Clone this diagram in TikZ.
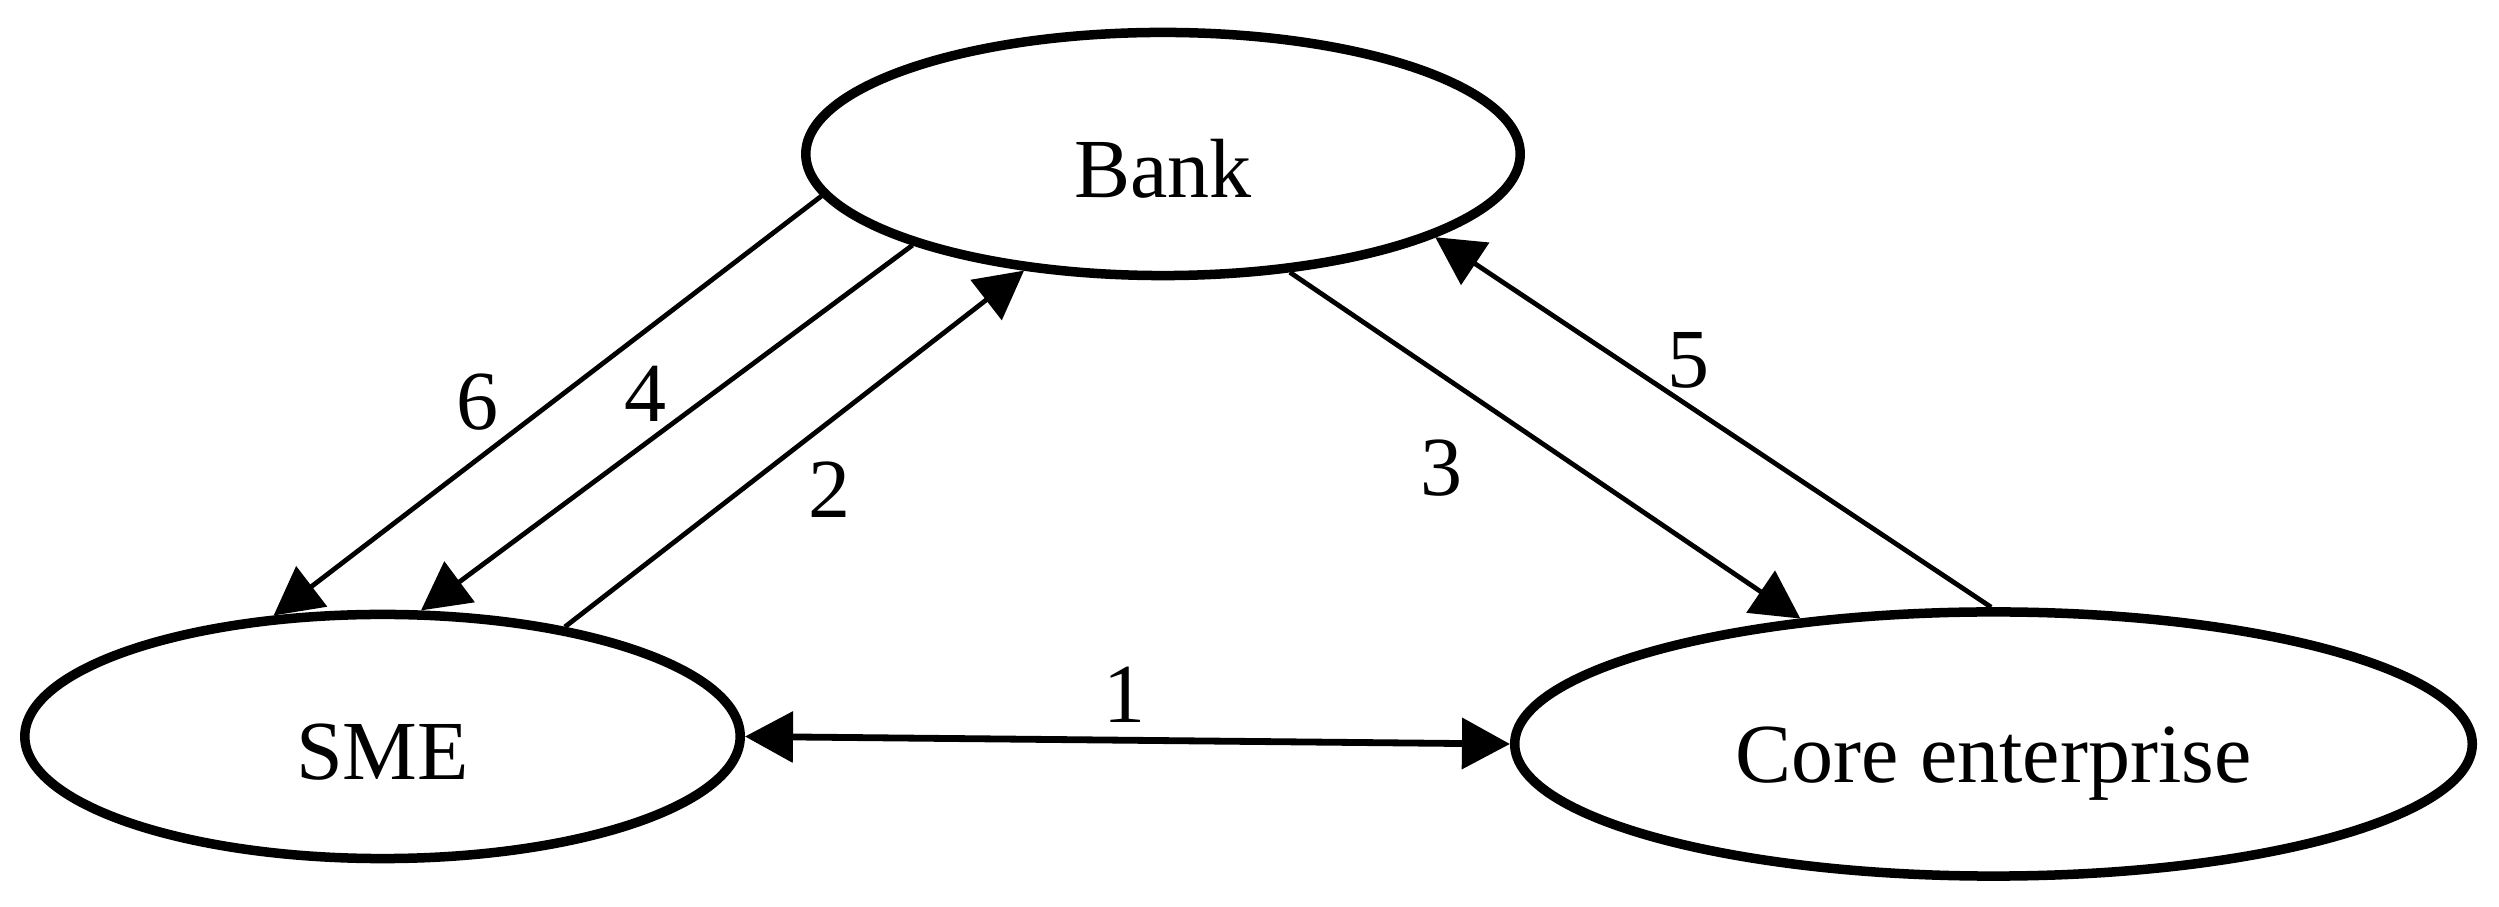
\documentclass[tikz,border=0pt]{standalone}
\usepackage{fontspec}
\setmainfont{Liberation Serif}
\usetikzlibrary{shapes.geometric,arrows.meta}
\begin{document}
\begin{tikzpicture}[x=0.01cm,y=-0.01cm,
  ent/.style={ellipse,draw,line width=0.095cm,inner sep=0pt,text height=0.86cm,text depth=0pt,
    font=\fontsize{23.9pt}{28pt}\selectfont},
  lbl/.style={inner sep=0pt,font=\fontsize{23.9pt}{28pt}\selectfont},
  flow/.style={line width=0.048cm,-{Triangle[length=0.48cm,width=0.5cm]}},
  both/.style={line width=0.068cm,{Triangle[length=0.48cm,width=0.5cm]}-{Triangle[length=0.48cm,width=0.5cm]}}
  ]
\useasboundingbox (0,0) rectangle (2499,907);
\node[ent,minimum width=7.14cm,minimum height=2.43cm] (bank) at (1163,154) {Bank};
\node[ent,minimum width=7.15cm,minimum height=2.44cm] (sme) at (382.5,736.5) {SME};
\node[ent,minimum width=9.57cm,minimum height=2.64cm,text height=0.76cm] (core) at (1993.5,744) {Core enterprise};
% connectors
\draw[flow] (bank.187.3) -- (sme.132.8);
\draw[flow] (bank.200) -- (sme.73.1);
\draw[flow] (sme.31.3) -- (bank.220.5);
\draw[flow] (bank.317) -- (core.147.2);
\draw[flow] (core.91.5) -- (bank.343.1);
\draw[both] (sme.-0.55) -- (core.180.5);
% labels
\node[lbl] (l6) at (478,402) {6};
\node[lbl] (l4) at (646,394) {4};
\node[lbl] (l2) at (830,490) {2};
\node[lbl] (l3) at (1441,468) {3};
\node[lbl] (l5) at (1688,360) {5};
\node[lbl] (l1) at (1125,695) {1};
\end{tikzpicture}
\end{document}
